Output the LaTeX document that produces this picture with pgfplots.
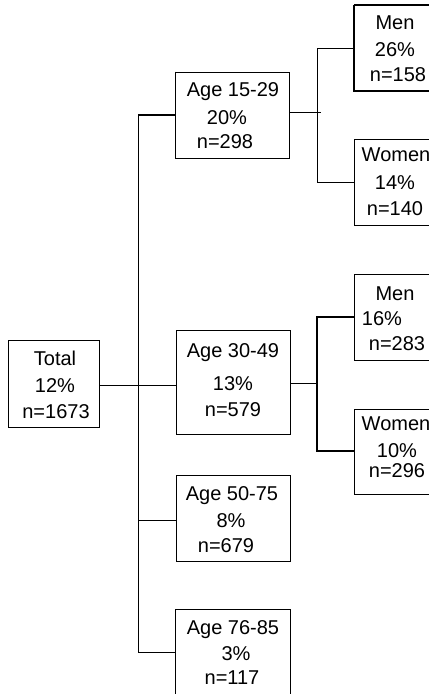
\documentclass[border=0pt]{standalone}
\usepackage{pgfplots}
\pgfplotsset{compat=1.18}
\usepackage{fontspec}
\setmainfont{Liberation Sans}
\tikzset{txt/.style={anchor=base, inner sep=0pt, font=\fontsize{20bp}{24bp}\selectfont}}
\begin{document}
\begin{tikzpicture}
\begin{axis}[
  scale only axis, width=429bp, height=694bp,
  xmin=0, xmax=429, ymin=0, ymax=694, y dir=reverse,
  hide axis, clip=true,
  cycle list={{black,solid,line width=2bp,mark=none,line cap=rect,line join=miter}},
]
% connectors
\addplot coordinates {(99,385) (177,385)};
\addplot coordinates {(138,115) (138,652)};
\addplot coordinates {(138,115) (175,115)};
\addplot coordinates {(138,520) (176,520)};
\addplot coordinates {(138,652) (175,652)};
\addplot coordinates {(289,112) (321,112)};
\addplot coordinates {(354,48) (317,48) (317,182) (354,182)};
\addplot coordinates {(290,383) (317,383)};
\addplot coordinates {(354,317) (317,317) (317,451) (354,451)};
% boxes
\addplot coordinates {(8,340) (99,340) (99,427) (8,427) (8,340)};
\addplot coordinates {(175,72) (289,72) (289,158) (175,158) (175,72)};
\addplot coordinates {(176,330) (290,330) (290,434) (176,434) (176,330)};
\addplot coordinates {(176,475) (290,475) (290,561) (176,561) (176,475)};
\addplot coordinates {(175,609) (290,609) (290,720) (175,720) (175,609)};
\addplot coordinates {(354,5) (445,5) (445,91) (354,91) (354,5)};
\addplot coordinates {(354,139) (445,139) (445,225) (354,225) (354,139)};
\addplot coordinates {(354,274) (445,274) (445,360) (354,360) (354,274)};
\addplot coordinates {(354,409) (445,409) (445,494) (354,494) (354,409)};
% texts
\node[txt] at (axis cs:55,365) {Total};
\node[txt] at (axis cs:55,392) {12\%};
\node[txt] at (axis cs:56,418) {n=1673};
\node[txt] at (axis cs:233,97) {Age 15-29};
\node[txt] at (axis cs:227,125) {20\%};
\node[txt] at (axis cs:225,149) {n=298};
\node[txt] at (axis cs:233,357) {Age 30-49};
\node[txt] at (axis cs:233,390) {13\%};
\node[txt] at (axis cs:233,416) {n=579};
\node[txt] at (axis cs:232,500) {Age 50-75};
\node[txt] at (axis cs:231,527) {8\%};
\node[txt] at (axis cs:226,552) {n=679};
\node[txt] at (axis cs:233,634) {Age 76-85};
\node[txt] at (axis cs:236,660) {3\%};
\node[txt] at (axis cs:232,684) {n=117};
\node[txt] at (axis cs:395,30) {Men};
\node[txt] at (axis cs:395,57) {26\%};
\node[txt] at (axis cs:398,82) {n=158};
\node[txt] at (axis cs:396,162) {Women};
\node[txt] at (axis cs:395,190) {14\%};
\node[txt] at (axis cs:395,215) {n=140};
\node[txt] at (axis cs:395,300) {Men};
\node[txt] at (axis cs:382,325) {16\%};
\node[txt] at (axis cs:397,350) {n=283};
\node[txt] at (axis cs:396,430) {Women};
\node[txt] at (axis cs:397,457) {10\%};
\node[txt] at (axis cs:397,477) {n=296};
\end{axis}
\pgfresetboundingbox
\path (current axis.south west) rectangle (current axis.north east);
\end{tikzpicture}
\end{document}
